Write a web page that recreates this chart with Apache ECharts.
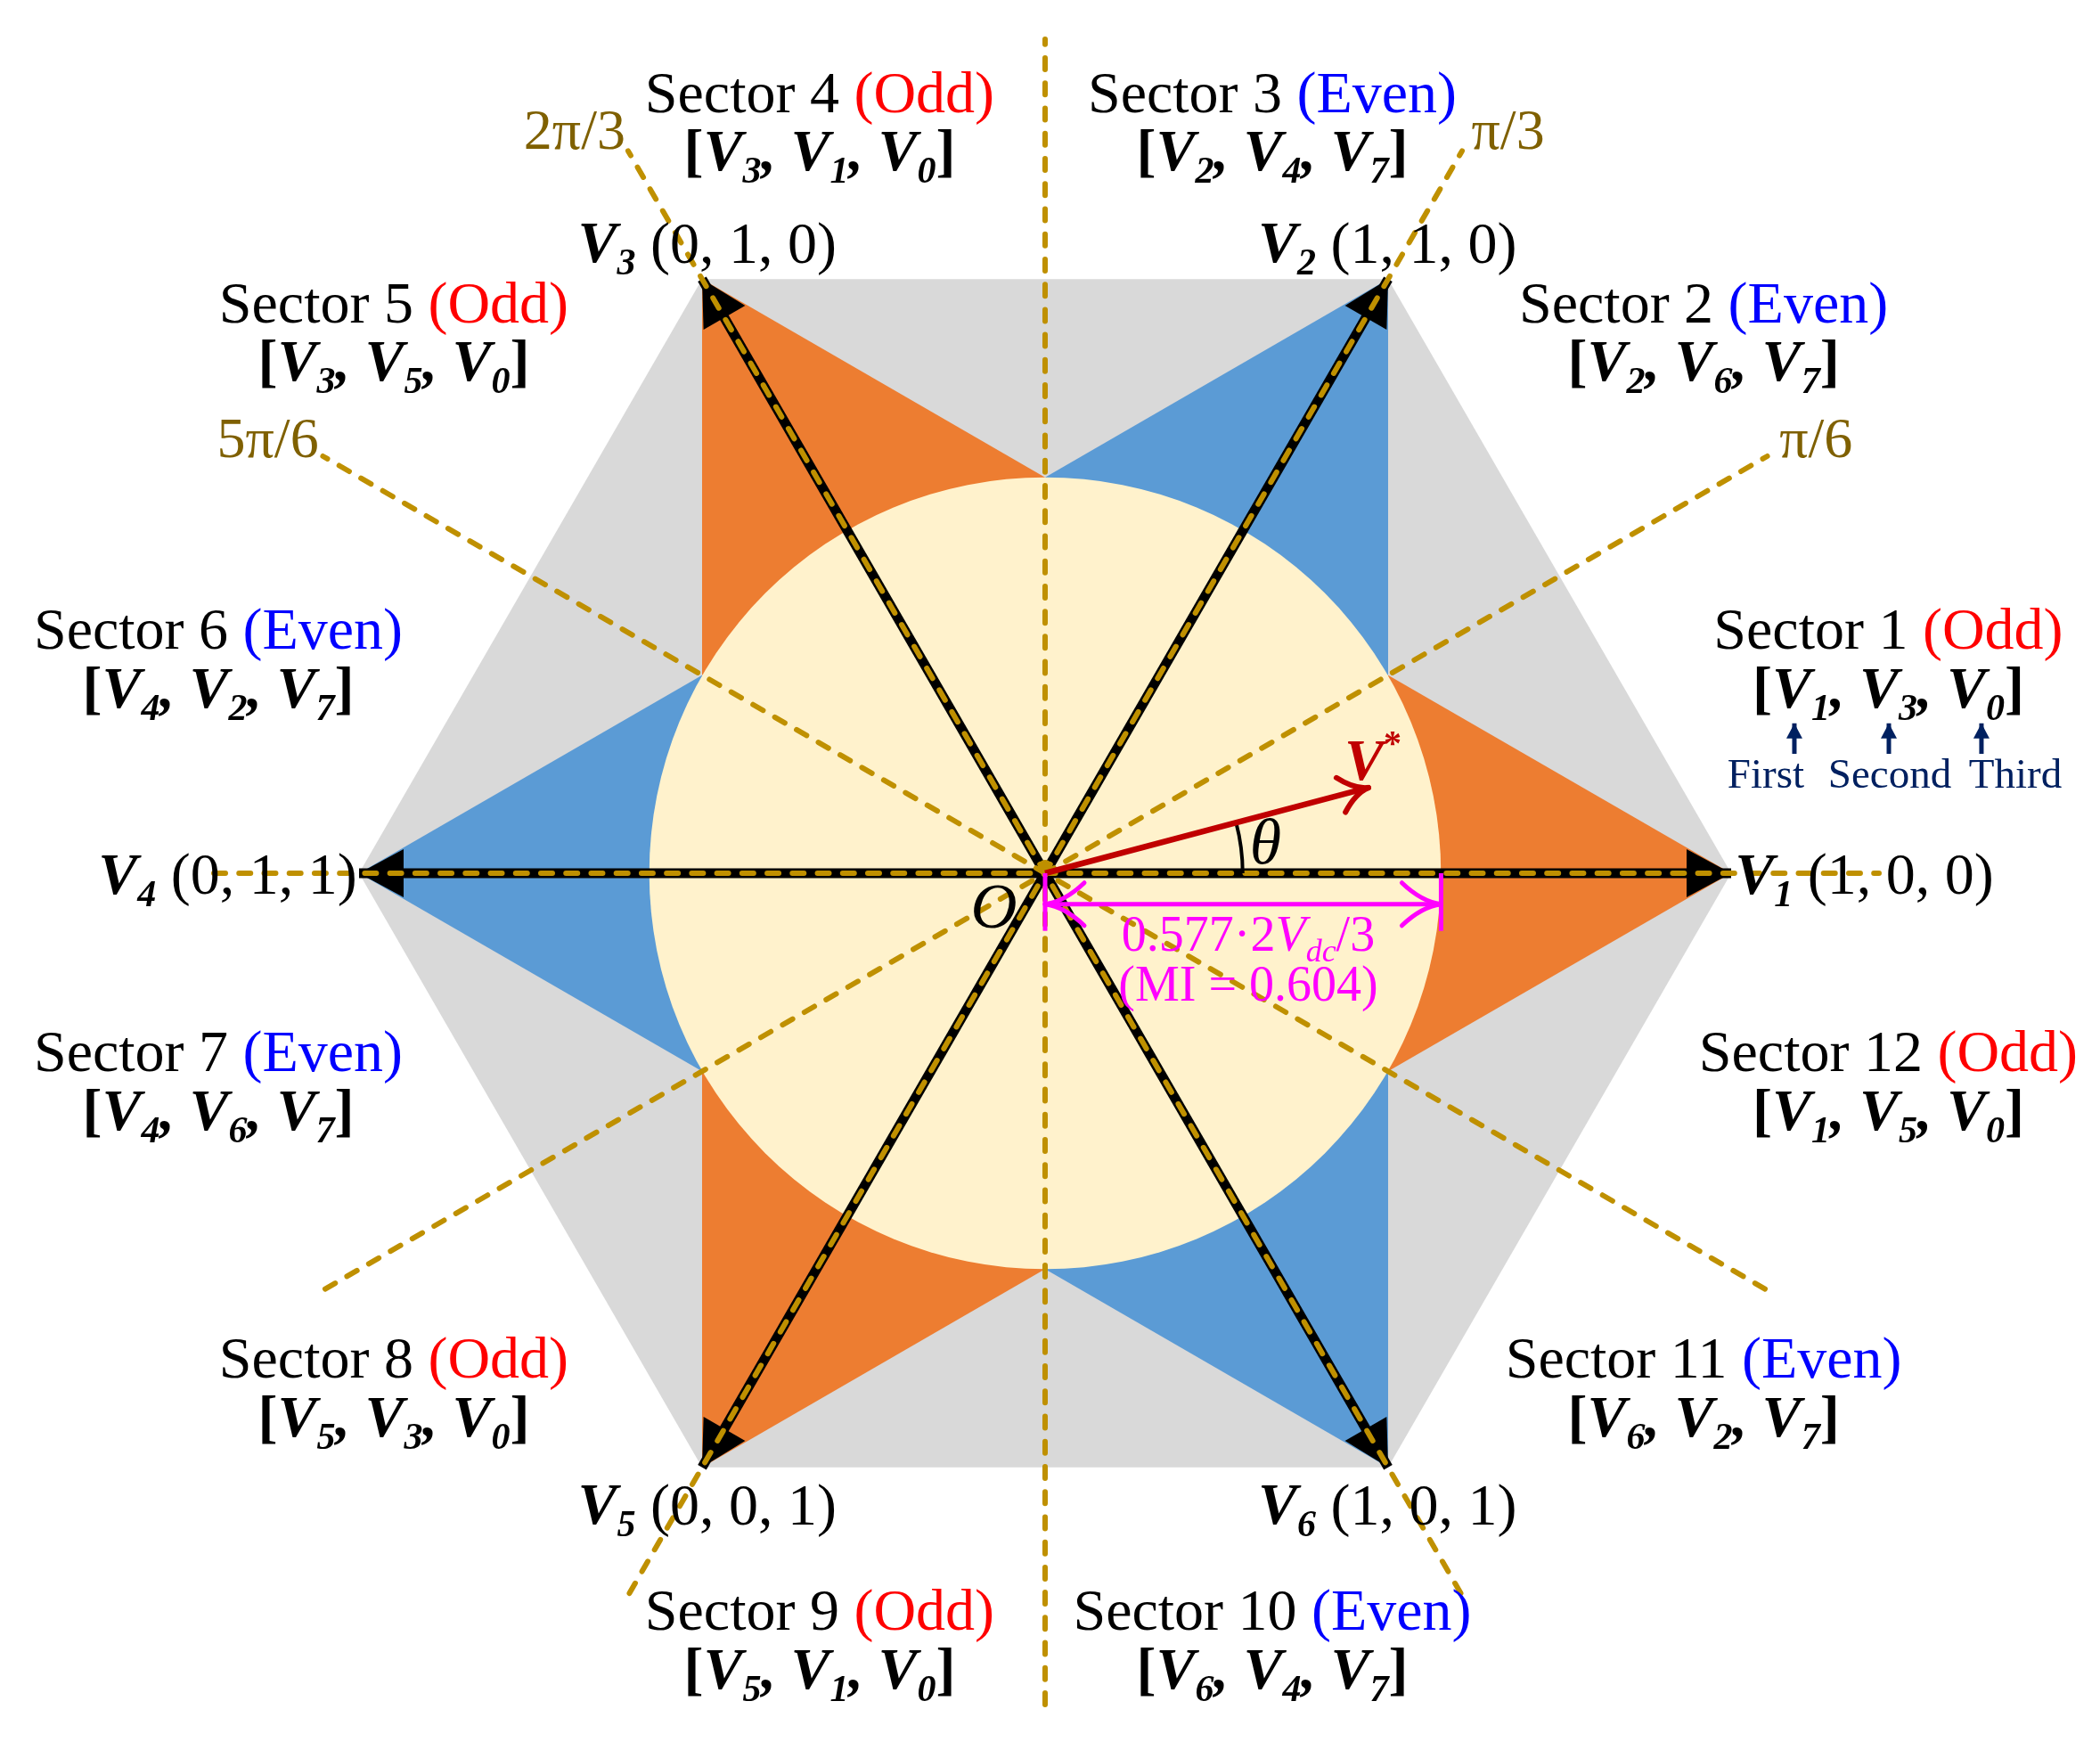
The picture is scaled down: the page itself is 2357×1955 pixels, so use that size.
<!DOCTYPE html>
<html>
<head>
<meta charset="utf-8">
<script src="https://cdn.jsdelivr.net/npm/echarts@6/dist/echarts.min.js"></script>
<style>
html, body { margin: 0; padding: 0; background: #fff; }
#main { width: 2357px; height: 1955px; }
</style>
</head>
<body>
<div id="main"></div>
<script>
// all values are in units of 2Vdc/3 (hexagon radius = 1)
var hexX = [1, 0.5, -0.5, -1, -0.5, 0.5];
var hexY = [0, 0.866, 0.866, 0, -0.866, -0.866];
var innerX = [0.5, 0, -0.5, -0.5, 0, 0.5];
var innerY = [0.2887, 0.577, 0.2887, -0.2887, -0.577, -0.2887];
var circleR = 0.577;
var vStarTip = [0.4714, 0.1247];
var thetaR = 0.288;
var thetaAngle = 0.2585;
var miY = -0.0451;
var miX = 0.5772;

var guideFrom = [[-1.2117, 0], [-0.6059, -1.0494], [0, -1.2117], [0.6059, -1.0494], [-1.0494, -0.6059], [1.0494, -0.6059]];
var guideTo = [[1.2156, 0], [0.6078, 1.0527], [0, 1.2156], [-0.6078, 1.0527], [1.0527, 0.6078], [-1.0527, 0.6078]];

var vectorNames = ['1', '2', '3', '4', '5', '6'];
var vectorBits = ['(1, 0, 0)', '(1, 1, 0)', '(0, 1, 0)', '(0, 1, 1)', '(0, 0, 1)', '(1, 0, 1)'];

var sectorNos = [1, 2, 3, 4, 5, 6, 7, 8, 9, 10, 11, 12];
var sectorParity = ['Odd', 'Even', 'Even', 'Odd', 'Odd', 'Even', 'Even', 'Odd', 'Odd', 'Even', 'Even', 'Odd'];
var sectorOrder = [
    ['1', '3', '0'], ['2', '6', '7'], ['2', '4', '7'], ['3', '1', '0'],
    ['3', '5', '0'], ['4', '2', '7'], ['4', '6', '7'], ['5', '3', '0'],
    ['5', '1', '0'], ['6', '4', '7'], ['6', '2', '7'], ['1', '5', '0']
];
var angleNames = ['\u03c0/3', '2\u03c0/3', '5\u03c0/6', '\u03c0/6'];
var orderNames = ['First', 'Second', 'Third'];

// label anchors
var sectorAnchorX = [1.2292, 0.9599, 0.3312, -0.3286, -0.9494, -1.2052, -1.2052, -0.9494, -0.3286, 0.3312, 0.9599, 1.2292];
var sectorAnchorY = [0.3494, 0.8257, 1.1322, 1.1322, 0.8257, 0.3494, -0.2655, -0.7127, -1.0807, -1.0807, -0.7127, -0.2655];
var vectorAnchorX = [1.1942, 0.4991, -0.4926, -1.1915, -0.4926, 0.4991];
var vectorAnchorY = [-0.0079, 0.9127, 0.9127, -0.0079, -0.9263, -0.9263];
var angleAnchorX = [0.6748, -0.6859, -1.133, 1.1238];
var angleAnchorY = [1.0775, 1.0775, 0.6286, 0.6286];
var orderAnchorX = [1.0506, 1.2312, 1.4143];
var orderAnchorY = 0.1409;
var orderArrowX = [1.0922, 1.2299, 1.3649];

var FONT = '"Liberation Serif", "Times New Roman", serif';
var GOLD = '#BF9000';
var PINK = '#FF00FF';
var DARKRED = '#C00000';
var NAVY = '#002060';

var chart = echarts.init(document.getElementById('main'));

function polygonSeries(xs, ys, color) {
    return {
        type: 'custom', silent: true, data: [0],
        renderItem: function (params, api) {
            var pts = xs.map(function (x, i) { return api.coord([x, ys[i]]); });
            return { type: 'polygon', shape: { points: pts }, style: { fill: color } };
        }
    };
}

function segmentSeries(from, to, style) {
    return {
        type: 'custom', silent: true, data: from.map(function (d, i) { return i; }),
        renderItem: function (params, api) {
            var a = api.coord(from[params.dataIndex]);
            var b = api.coord(to[params.dataIndex]);
            return {
                type: 'line',
                shape: { x1: a[0], y1: a[1], x2: b[0], y2: b[1] },
                style: Object.assign({ fill: null }, style)
            };
        }
    };
}

function unit(a, b) {
    var dx = b[0] - a[0], dy = b[1] - a[1], l = Math.sqrt(dx * dx + dy * dy);
    return [dx / l, dy / l];
}

// solid triangular head at "to", pointing away from "from"
function headSeries(from, to, len, hw, color) {
    return {
        type: 'custom', silent: true, data: to.map(function (d, i) { return i; }),
        renderItem: function (params, api) {
            var a = api.coord(from[params.dataIndex]);
            var t = api.coord(to[params.dataIndex]);
            var u = unit(a, t);
            return {
                type: 'polygon',
                shape: { points: [
                    t,
                    [t[0] - u[0] * len - u[1] * hw, t[1] - u[1] * len + u[0] * hw],
                    [t[0] - u[0] * len + u[1] * hw, t[1] - u[1] * len - u[0] * hw]
                ] },
                style: { fill: color }
            };
        }
    };
}

// open arrow with two curved barbs
function barbSeries(from, to, len, hw, color, width) {
    return {
        type: 'custom', silent: true, data: to.map(function (d, i) { return i; }),
        renderItem: function (params, api) {
            var a = api.coord(from[params.dataIndex]);
            var t = api.coord(to[params.dataIndex]);
            var u = unit(a, t);
            var kids = [1, -1].map(function (s) {
                return {
                    type: 'bezierCurve',
                    shape: {
                        x1: t[0], y1: t[1],
                        x2: t[0] - u[0] * len - s * u[1] * hw, y2: t[1] - u[1] * len + s * u[0] * hw,
                        cpx1: t[0] - u[0] * len * 0.5 - s * u[1] * hw * 0.12,
                        cpy1: t[1] - u[1] * len * 0.5 + s * u[0] * hw * 0.12
                    },
                    style: { fill: null, stroke: color, lineWidth: width, lineCap: 'round' }
                };
            });
            return { type: 'group', children: kids };
        }
    };
}

function textSeries(points, texts, rich) {
    return {
        type: 'scatter', silent: true, symbolSize: 1,
        itemStyle: { color: 'transparent', opacity: 1 },
        data: points.map(function (p, i) { return { value: p, text: texts[i] }; }),
        label: {
            show: true, position: 'inside', align: 'center', verticalAlign: 'middle',
            opacity: 1, fontFamily: FONT, rich: rich,
            formatter: function (p) { return p.data.text; }
        }
    };
}

var hexVerts = hexX.map(function (x, i) { return [x, hexY[i]]; });
var origins = hexVerts.map(function () { return [0, 0]; });

// star triangles around each hexagon corner
var starSeries = hexX.map(function (x, i) {
    var prev = (i + 5) % 6;
    return polygonSeries([x, innerX[i], innerX[prev]], [hexY[i], innerY[i], innerY[prev]],
        i % 2 === 0 ? '#ED7D31' : '#5B9BD5');
});

var circleSeries = {
    type: 'custom', silent: true, data: [0],
    renderItem: function (params, api) {
        var c = api.coord([0, 0]);
        return { type: 'circle', shape: { cx: c[0], cy: c[1], r: api.size([circleR, 0])[0] }, style: { fill: '#FFF2CC' } };
    }
};

var thetaArc = {
    type: 'custom', silent: true, data: [0],
    renderItem: function (params, api) {
        var c = api.coord([0, 0]);
        return {
            type: 'arc',
            shape: { cx: c[0], cy: c[1], r: api.size([thetaR, 0])[0], startAngle: -thetaAngle, endAngle: 0, clockwise: true },
            style: { fill: null, stroke: '#000', lineWidth: 4 }
        };
    }
};

var centreDot = {
    type: 'custom', silent: true, data: [0],
    renderItem: function (params, api) {
        var c = api.coord([0, 0]);
        return { type: 'circle', shape: { cx: c[0], cy: c[1] - 7, r: 8 }, style: { fill: GOLD } };
    }
};

var bigRich = {
    b: { fontFamily: FONT, fontSize: 66, color: '#000', lineHeight: 82 },
    o: { fontFamily: FONT, fontSize: 66, color: '#FF0000', lineHeight: 82 },
    e: { fontFamily: FONT, fontSize: 66, color: '#0000FF', lineHeight: 82 },
    v: { fontFamily: FONT, fontSize: 66, color: '#000', fontWeight: 'bold', fontStyle: 'italic', lineHeight: 82 },
    k: { fontFamily: FONT, fontSize: 66, color: '#000', fontWeight: 'bold', lineHeight: 82 },
    s: { fontFamily: FONT, fontSize: 42, color: '#000', fontWeight: 'bold', fontStyle: 'italic', verticalAlign: 'bottom', lineHeight: 82 },
    a: { fontFamily: FONT, fontSize: 64, color: '#7F6000', lineHeight: 82 },
    n: { fontFamily: FONT, fontSize: 47, color: NAVY, lineHeight: 60 },
    i: { fontFamily: FONT, fontSize: 72, color: '#000', fontStyle: 'italic', lineHeight: 82 },
    p: { fontFamily: FONT, fontSize: 56, color: PINK, lineHeight: 70 },
    q: { fontFamily: FONT, fontSize: 56, color: PINK, fontStyle: 'italic', lineHeight: 70 },
    d: { fontFamily: FONT, fontSize: 36, color: PINK, fontStyle: 'italic', verticalAlign: 'bottom', lineHeight: 70 },
    r: { fontFamily: FONT, fontSize: 66, color: DARKRED, fontWeight: 'bold', fontStyle: 'italic', lineHeight: 82 },
    t: { fontFamily: FONT, fontSize: 40, color: DARKRED, fontWeight: 'bold', verticalAlign: 'top', lineHeight: 82 }
};

var sectorTitles = sectorNos.map(function (n, i) {
    return '{b|Sector ' + n + ' }' + (sectorParity[i] === 'Odd' ? '{o|(Odd)}' : '{e|(Even)}');
});
var sectorVectors = sectorOrder.map(function (o) {
    return '{k|[}{v|V}{s|' + o[0] + '}{v|, V}{s|' + o[1] + '}{v|, V}{s|' + o[2] + '}{k|]}';
});
var vectorLabels = vectorNames.map(function (n, i) {
    return '{v|V}{s|' + n + '}{b| ' + vectorBits[i] + '}';
});

var sectorPts = sectorNos.map(function (n, i) { return [sectorAnchorX[i], sectorAnchorY[i]]; });
var sectorPts2 = sectorNos.map(function (n, i) { return [sectorAnchorX[i], sectorAnchorY[i] - 0.086]; });
var vectorPts = vectorNames.map(function (n, i) { return [vectorAnchorX[i], vectorAnchorY[i]]; });
var anglePts = angleNames.map(function (n, i) { return [angleAnchorX[i], angleAnchorY[i]]; });
var orderPts = orderNames.map(function (n, i) { return [orderAnchorX[i], orderAnchorY]; });
var arrowBase = orderArrowX.map(function (x) { return [x, 0.174]; });
var arrowTip = orderArrowX.map(function (x) { return [x, 0.2185]; });

var option = {
    animation: false,
    backgroundColor: '#fff',
    grid: { left: 0, right: 0, top: 0, bottom: 0 },
    xAxis: { type: 'value', min: -1.5234, max: 1.5377, show: false },
    yAxis: { type: 'value', min: -1.2662, max: 1.2727, show: false },
    series: [
        polygonSeries(hexX, hexY, '#D9D9D9')
    ].concat(starSeries).concat([
        circleSeries,
        textSeries(sectorPts, sectorTitles, bigRich),
        textSeries(sectorPts2, sectorVectors, bigRich),
        textSeries(vectorPts, vectorLabels, bigRich),
        textSeries(anglePts, angleNames.map(function (n) { return '{a|' + n + '}'; }), bigRich),
        segmentSeries(origins, hexVerts, { stroke: '#000', lineWidth: 11 }),
        headSeries(origins, hexVerts, 50, 27, '#000'),
        segmentSeries(guideFrom, guideTo, { stroke: GOLD, lineWidth: 6, lineDash: [13, 15.23], lineCap: 'round' }),
        centreDot,
        thetaArc,
        segmentSeries([[0, 0]], [vStarTip], { stroke: DARKRED, lineWidth: 6.5 }),
        barbSeries([[0, 0]], [vStarTip], 32, 20, DARKRED, 6),
        segmentSeries([[0, miY], [0, 0], [miX, 0]], [[miX, miY], [0, -0.084], [miX, -0.084]], { stroke: PINK, lineWidth: 5 }),
        barbSeries([[miX, miY], [0, miY]], [[0, miY], [miX, miY]], 44, 24, PINK, 5),
        segmentSeries(arrowBase, arrowTip, { stroke: NAVY, lineWidth: 5 }),
        headSeries(arrowBase, arrowTip, 17, 9, NAVY),
        textSeries(orderPts, orderNames.map(function (n) { return '{n|' + n + '}'; }), bigRich),
        textSeries([[-0.0748, -0.0548], [0.3215, 0.0388]], ['{i|O}', '{i|\u03b8}'], bigRich),
        textSeries([[0.478, 0.1584]], ['{r|V}{t|*}'], bigRich),
        textSeries([[0.2961, -0.0939], [0.2961, -0.1661]],
            ['{p|0.577\u00b72}{q|V}{d|dc}{p|/3}', '{p|(MI = 0.604)}'], bigRich)
    ])
};

chart.setOption(option);
</script>
</body>
</html>
